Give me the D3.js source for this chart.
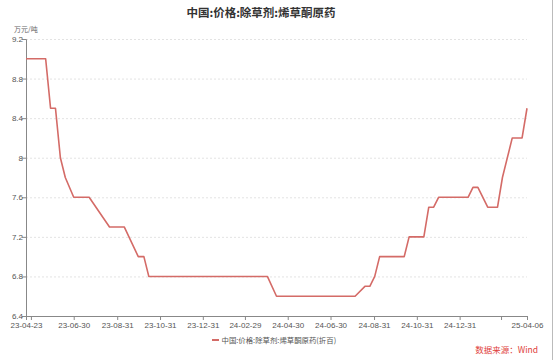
<!DOCTYPE html>
<html>
<head>
<meta charset="utf-8">
<script src="https://cdn.jsdelivr.net/npm/d3@7"></script>
<style>
  body { margin: 0; background: #fff; }
  svg { display: block; font-family: "Microsoft YaHei", "Noto Sans CJK SC", sans-serif; }
</style>
</head>
<body>
<div id="chart"></div>
<script>
// data (turning points of the weekly series)
const dates = [
    "2023-04-23", "2023-05-21", "2023-05-28", "2023-06-04", "2023-06-11", "2023-06-18",
    "2023-06-30", "2023-07-22", "2023-08-20", "2023-09-10", "2023-09-30", "2023-10-08",
    "2023-10-15", "2024-04-01", "2024-04-14", "2024-08-04", "2024-08-18", "2024-08-25",
    "2024-09-01", "2024-09-08", "2024-10-13", "2024-10-20", "2024-11-10", "2024-11-17",
    "2024-11-24", "2024-12-01", "2025-01-12", "2025-01-19", "2025-01-26", "2025-02-09",
    "2025-02-23", "2025-03-02", "2025-03-16", "2025-03-30", "2025-04-06"
];
const prices = [
    9.0, 9.0, 8.5, 8.5, 8.0, 7.8,
    7.6, 7.6, 7.3, 7.3, 7.0, 7.0,
    6.8, 6.8, 6.6, 6.6, 6.7, 6.7,
    6.8, 7.0, 7.0, 7.2, 7.2, 7.5,
    7.5, 7.6, 7.6, 7.7, 7.7, 7.5,
    7.5, 7.8, 8.2, 8.2, 8.5
];
const xTickDates = [
    "2023-04-23", "2023-04-30", "2023-06-30", "2023-08-31", "2023-10-31", "2023-12-31",
    "2024-02-29", "2024-04-30", "2024-06-30", "2024-08-31", "2024-10-31", "2024-12-31",
    "2025-02-28", "2025-04-06"
];
const hiddenLabels = ["2023-04-30", "2025-02-28"];
const yTicks = [6.4, 6.8, 7.2, 7.6, 8, 8.4, 8.8, 9.2];
const title = "中国:价格:除草剂:烯草酮原药";
const seriesName = "中国:价格:除草剂:烯草酮原药(折百)";
const unit = "万元/吨";
const source = "数据来源：Wind";

const W = 553, H = 360;
const margin = { top: 39, right: 26, bottom: 44, left: 26 };
const width = W - margin.left - margin.right;
const height = H - margin.top - margin.bottom;

const parse = d3.timeParse("%Y-%m-%d");
const fmt = d3.timeFormat("%y-%m-%d");
const data = dates.map((d, i) => ({ date: parse(d), value: prices[i] }));

const svg = d3.select("#chart")
    .append("svg")
    .attr("width", W)
    .attr("height", H);

const g = svg.append("g")
    .attr("transform", `translate(${margin.left}, ${margin.top})`);

const x = d3.scaleTime()
    .domain([parse(dates[0]), parse(dates[dates.length - 1])])
    .range([0, width]);

const y = d3.scaleLinear().domain([6.4, 9.2]).range([height, 0]);

// title
svg.append("text")
    .attr("x", 261)
    .attr("y", 17)
    .attr("text-anchor", "middle")
    .style("font-size", "11.5px")
    .style("font-weight", "bold")
    .style("fill", "#333")
    .text(title);

// unit
svg.append("text")
    .attr("x", 14)
    .attr("y", 32)
    .style("font-size", "7px")
    .style("fill", "#666")
    .text(unit);

// grid
g.append("g")
    .selectAll("line")
    .data(yTicks.slice(1))
    .enter()
    .append("line")
    .attr("x1", 0)
    .attr("x2", width)
    .attr("y1", d => y(d) + 0.5)
    .attr("y2", d => y(d) + 0.5)
    .style("stroke", "#e3e3e3")
    .style("stroke-dasharray", "2,2");

// y axis
g.append("g")
    .call(d3.axisLeft(y).tickValues(yTicks).tickSize(4).tickFormat(d3.format("~g")))
    .call(a => a.select(".domain").style("stroke", "#888"))
    .call(a => a.selectAll(".tick line").style("stroke", "#888"))
    .call(a => a.selectAll("text").style("fill", "#555").style("font-size", "8px")
        .attr("font-family", null).attr("x", -3));

// x axis
g.append("g")
    .attr("transform", `translate(0, ${height})`)
    .call(d3.axisBottom(x).tickValues(xTickDates.map(parse)).tickSize(4).tickSizeOuter(0)
        .tickFormat(d => hiddenLabels.includes(d3.timeFormat("%Y-%m-%d")(d)) ? "" : fmt(d)))
    .call(a => a.select(".domain").style("stroke", "#888"))
    .call(a => a.selectAll(".tick line").style("stroke", "#888"))
    .call(a => a.selectAll("text").style("fill", "#555").style("font-size", "8px")
        .attr("font-family", null).attr("y", 6));

// line
const line = d3.line()
    .x(d => x(d.date))
    .y(d => y(d.value));

g.append("path")
    .datum(data)
    .attr("d", line)
    .style("fill", "none")
    .style("stroke", "#d46b67")
    .style("stroke-width", 1.6)
    .style("stroke-linejoin", "round");

// legend
svg.append("line")
    .attr("x1", 212).attr("x2", 219)
    .attr("y1", 340).attr("y2", 340)
    .style("stroke", "#d46b67")
    .style("stroke-width", 2);

svg.append("text")
    .attr("x", 221.5)
    .attr("y", 342.5)
    .style("font-size", "7.4px")
    .style("fill", "#555")
    .text(seriesName);

// source
svg.append("text")
    .attr("x", 538)
    .attr("y", 353)
    .attr("text-anchor", "end")
    .style("font-size", "8.5px")
    .style("fill", "#e0403a")
    .text(source);

// right frame
svg.append("line")
    .attr("x1", 552.5).attr("x2", 552.5)
    .attr("y1", 0).attr("y2", H)
    .style("stroke", "#bbb");
</script>
</body>
</html>
